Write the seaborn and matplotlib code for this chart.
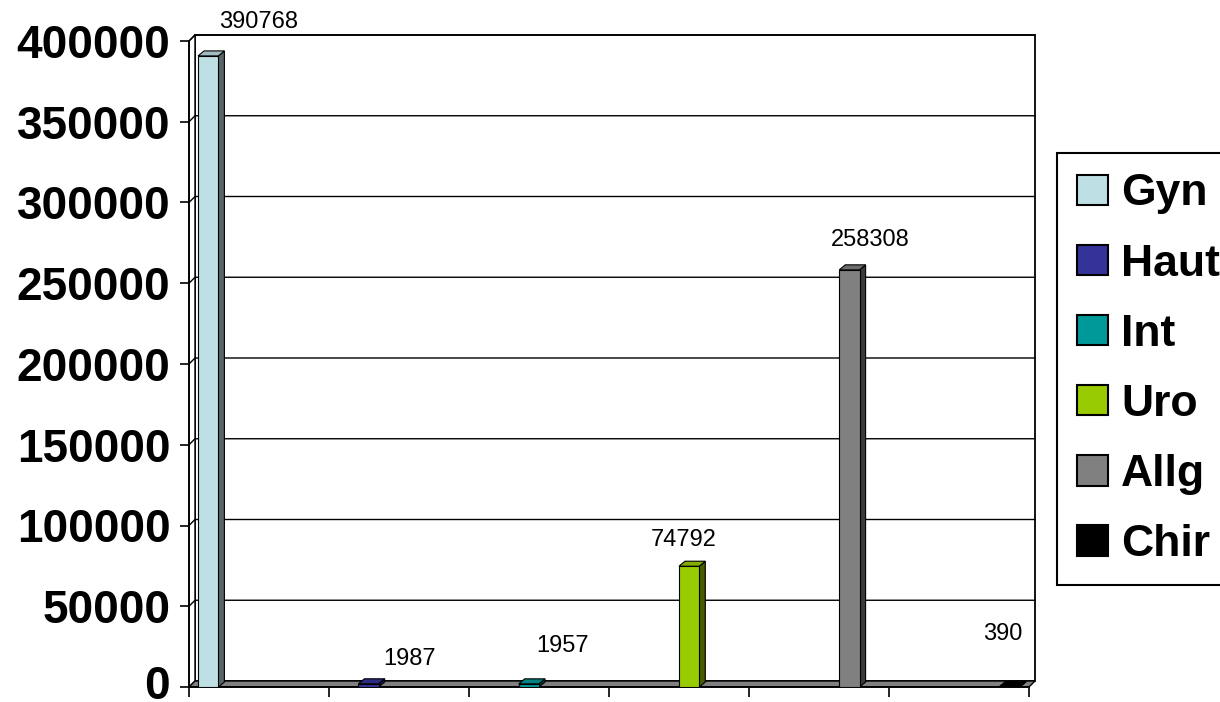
import numpy as np
import pandas as pd
import matplotlib
matplotlib.use("Agg")
import matplotlib.pyplot as plt
from matplotlib.patches import Polygon, Patch, Rectangle
from matplotlib.colors import to_rgb
from matplotlib.transforms import ScaledTranslation
import seaborn as sns

# Chart data
departments = ["Gyn", "Haut", "Int", "Uro", "Allg", "Chir"]
counts = [390768, 1987, 1957, 74792, 258308, 390]
colors = ["#BEE0E4", "#333399", "#009999", "#99CC00", "#808080", "#000000"]
y_ticks = [0, 50000, 100000, 150000, 200000, 250000, 300000, 350000, 400000]

# Value-label nudges (pixels right / up from the top centre of each bar)
label_nudge = [(50, 34), (41, 25), (34, 38), (-5, 26), (21, 30), (-7, 52)]

sns.set_style("white")
plt.rcParams["font.family"] = ["Liberation Sans", "DejaVu Sans"]
plt.rcParams["text.color"] = "black"
plt.rcParams["axes.labelcolor"] = "black"
plt.rcParams["xtick.color"] = "black"
plt.rcParams["ytick.color"] = "black"

W, H, DPI = 1220, 702, 100
fig = plt.figure(figsize=(W / DPI, H / DPI), dpi=DPI)
fig.patch.set_facecolor("white")

# Front plane of the plot box (pixels)
x0, x1, ytop, ybot = 189, 1029, 41, 687
ax = fig.add_axes([x0 / W, 1 - ybot / H, (x1 - x0) / W, (ybot - ytop) / H])
ax.patch.set_visible(False)

df = pd.DataFrame({"dept": departments, "count": counts})
sns.barplot(data=df, x="dept", y="count", hue="dept",
            order=departments, hue_order=departments, palette=colors,
            dodge=True, width=0.87, saturation=1, edgecolor="black",
            linewidth=0.8, legend=False, ax=ax, zorder=5)

ax.set_xlim(-0.5, 5.5)
ax.set_ylim(0, 400000)

# pixel -> data conversion for the pseudo-3D depth
px_x = 6.0 / (x1 - x0)
px_y = 400000.0 / (ybot - ytop)
wdx, wdy = 6 * px_x, 6 * px_y      # wall depth
bdx, bdy = 6 * px_x, 5 * px_y      # bar depth

# back wall
ax.add_patch(Rectangle((-0.5 + wdx, wdy), 6, 400000, facecolor="white",
                       edgecolor="black", lw=1.3, clip_on=False, zorder=0))
# left side wall
ax.add_patch(Polygon([(-0.5, 0), (-0.5, 400000), (-0.5 + wdx, 400000 + wdy),
                      (-0.5 + wdx, wdy)], closed=True, facecolor="white",
                     edgecolor="black", lw=1.0, clip_on=False, zorder=0.5))
# gridlines on the walls
for v in y_ticks[1:]:
    ax.plot([-0.5, -0.5 + wdx, 5.5 + wdx], [v, v + wdy, v + wdy],
            color="black", lw=1.0, clip_on=False, zorder=1)
# floor
ax.add_patch(Polygon([(-0.5, 0), (5.5, 0), (5.5 + wdx, wdy), (-0.5 + wdx, wdy)],
                     closed=True, facecolor="#808080", edgecolor="black",
                     lw=1.0, clip_on=False, zorder=2))

# 3D faces and value labels for each bar
bars = [p for p in ax.patches if isinstance(p, Rectangle) and p.get_zorder() == 5]
bars = sorted(bars, key=lambda p: p.get_x())
for p, val, (ndx, ndy) in zip(bars, counts, label_nudge):
    x, w, h = p.get_x(), p.get_width(), p.get_height()
    base = np.array(to_rgb(p.get_facecolor()))
    side = tuple(base * 0.45)
    topc = tuple(np.clip(base * 0.85, 0, 1))
    ax.add_patch(Polygon([(x + w, 0), (x + w + bdx, bdy), (x + w + bdx, h + bdy), (x + w, h)],
                         closed=True, facecolor=side, edgecolor="black", lw=0.8,
                         clip_on=False, zorder=4.9))
    ax.add_patch(Polygon([(x, h), (x + bdx, h + bdy), (x + w + bdx, h + bdy), (x + w, h)],
                         closed=True, facecolor=topc, edgecolor="black", lw=0.8,
                         clip_on=False, zorder=5.1))
    ax.annotate(f"{val}", xy=(x + w / 2, h), xytext=(ndx, ndy),
                textcoords="offset pixels", ha="center", va="center",
                fontsize=17, color="black", annotation_clip=False, zorder=6)

# axes, ticks
ax.set_yticks(y_ticks)
ax.set_yticklabels([str(v) for v in y_ticks], fontsize=33, fontweight="bold")
ax.set_xticks(np.arange(-0.5, 6.0, 1.0))
ax.set_xticklabels([])
ax.set_xlabel("")
ax.set_ylabel("")
ax.tick_params(axis="y", length=6.5, width=1.2, pad=7, direction="out", left=True, colors="black")
ax.tick_params(axis="x", length=7.2, width=1.2, direction="out", bottom=True, colors="black")
# keep the bottom tick label inside the canvas
zero_lbl = ax.get_yticklabels()[0]
zero_lbl.set_transform(zero_lbl.get_transform() + ScaledTranslation(0, 5 / DPI, fig.dpi_scale_trans))
for s in ["top", "right"]:
    ax.spines[s].set_visible(False)
for s in ["left", "bottom"]:
    ax.spines[s].set_color("black")
    ax.spines[s].set_linewidth(1.3)
    ax.spines[s].set_zorder(3)

# legend
handles = [Patch(facecolor=c, edgecolor="black", linewidth=1.5) for c in colors]
leg = fig.legend(handles, departments, loc="upper left",
                 bbox_to_anchor=(1057 / W, 1 - 153 / H), bbox_transform=fig.transFigure,
                 prop={"weight": "bold", "size": 32}, frameon=True, fancybox=False,
                 edgecolor="black", framealpha=1, handlelength=0.68, handleheight=0.68,
                 handletextpad=0.3, labelspacing=0.655, borderpad=0.46, borderaxespad=0,
                 labelcolor="black")
leg.get_frame().set_linewidth(1.5)

fig.savefig("out.png", dpi=DPI)
